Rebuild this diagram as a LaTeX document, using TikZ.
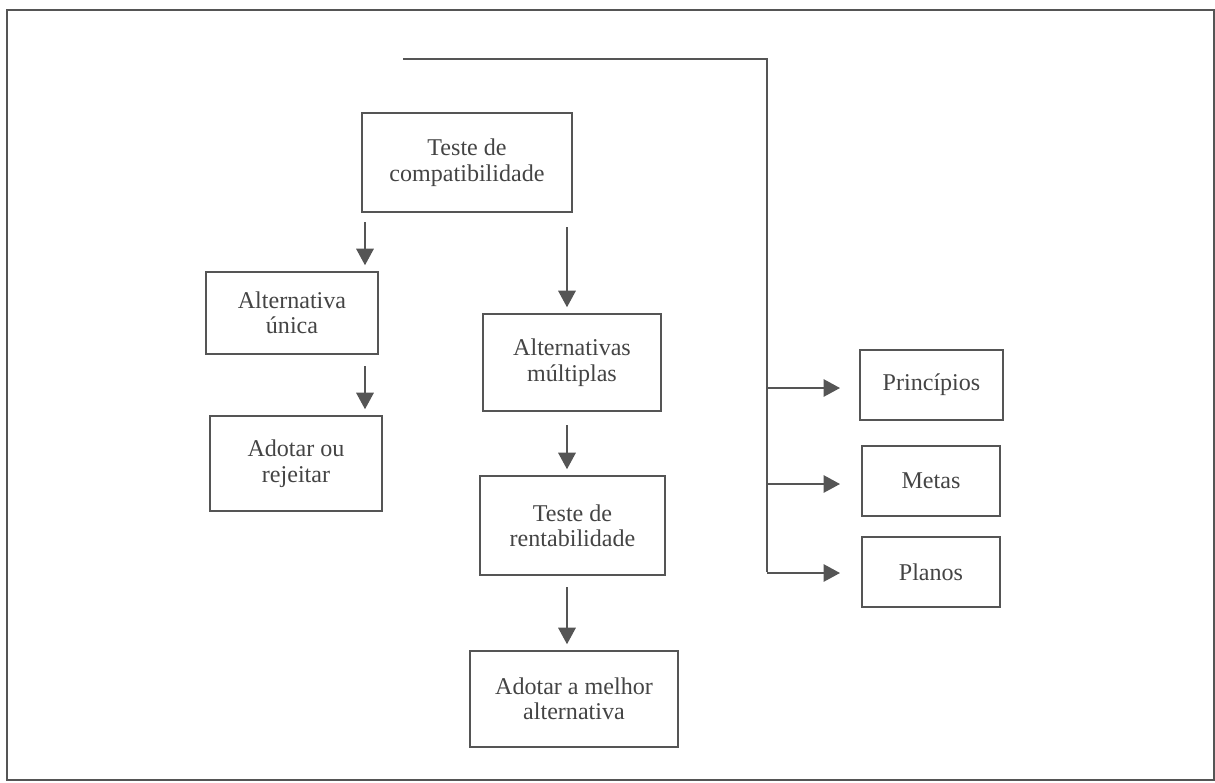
\documentclass[tikz,border=0pt]{standalone}
\usepackage{fontspec}
\setmainfont{Liberation Serif}
\usetikzlibrary{arrows.meta}
\definecolor{ink}{HTML}{555555}
\definecolor{txt}{HTML}{444444}
\begin{document}
\begin{tikzpicture}[x=0.02cm, y=-0.02cm, line width=0.9pt, draw=ink,
        font=\fontsize{13.7}{14.5}\selectfont, text=txt,
        box/.style={draw=ink, rectangle, align=center, inner sep=0pt},
        seta/.style={-{Triangle[length=0.33cm, width=0.35cm]}, draw=ink, fill=ink}]
    \useasboundingbox (0,0) rectangle (1215,782);
    \draw[ink] (7,10) rectangle (1214,780);
    % left column and middle column
    \node[box, minimum width=4.2cm, minimum height=1.98cm] (compat) at (467,162.5) {Teste de\\compatibilidade};
    \node[box, minimum width=3.44cm, minimum height=1.64cm] (unica) at (292,313) {Alternativa\\única};
    \node[box, minimum width=3.44cm, minimum height=1.9cm] (adotar) at (296,463.5) {Adotar ou\\rejeitar};
    \node[box, minimum width=3.56cm, minimum height=1.94cm] (multiplas) at (572,362.5) {Alternativas\\múltiplas};
    \node[box, minimum width=3.7cm, minimum height=1.98cm] (rentab) at (572.5,525.5) {Teste de\\rentabilidade};
    \node[box, minimum width=4.16cm, minimum height=1.92cm] (melhor) at (574,699) {Adotar a melhor\\alternativa};
    % right column
    \node[box, minimum width=2.86cm, minimum height=1.4cm] (principios) at (931.5,385) {Princípios};
    \node[box, minimum width=2.76cm, minimum height=1.4cm] (metas) at (931,481) {Metas};
    \node[box, minimum width=2.76cm, minimum height=1.4cm] (planos) at (931,572) {Planos};

    \draw[seta, shorten >=0.12cm] (365,222) -- (unica.north -| 365,0);
    \draw[seta, shorten >=0.12cm] (365,366) -- (adotar.north -| 365,0);
    \draw[seta, shorten >=0.12cm] (567,227) -- (multiplas.north -| 567,0);
    \draw[seta, shorten >=0.12cm] (567,425) -- (rentab.north -| 567,0);
    \draw[seta, shorten >=0.12cm] (567,587) -- (melhor.north -| 567,0);

    \coordinate (topo) at (403,59);
    \coordinate (canto) at (767,59);
    \draw (topo) -- (canto) -- (canto |- planos);
    \foreach \alvo/\yy in {principios/388, metas/484, planos/573}{
        \draw[seta] (767,\yy) -- (840,\yy);
    }
\end{tikzpicture}
\end{document}
